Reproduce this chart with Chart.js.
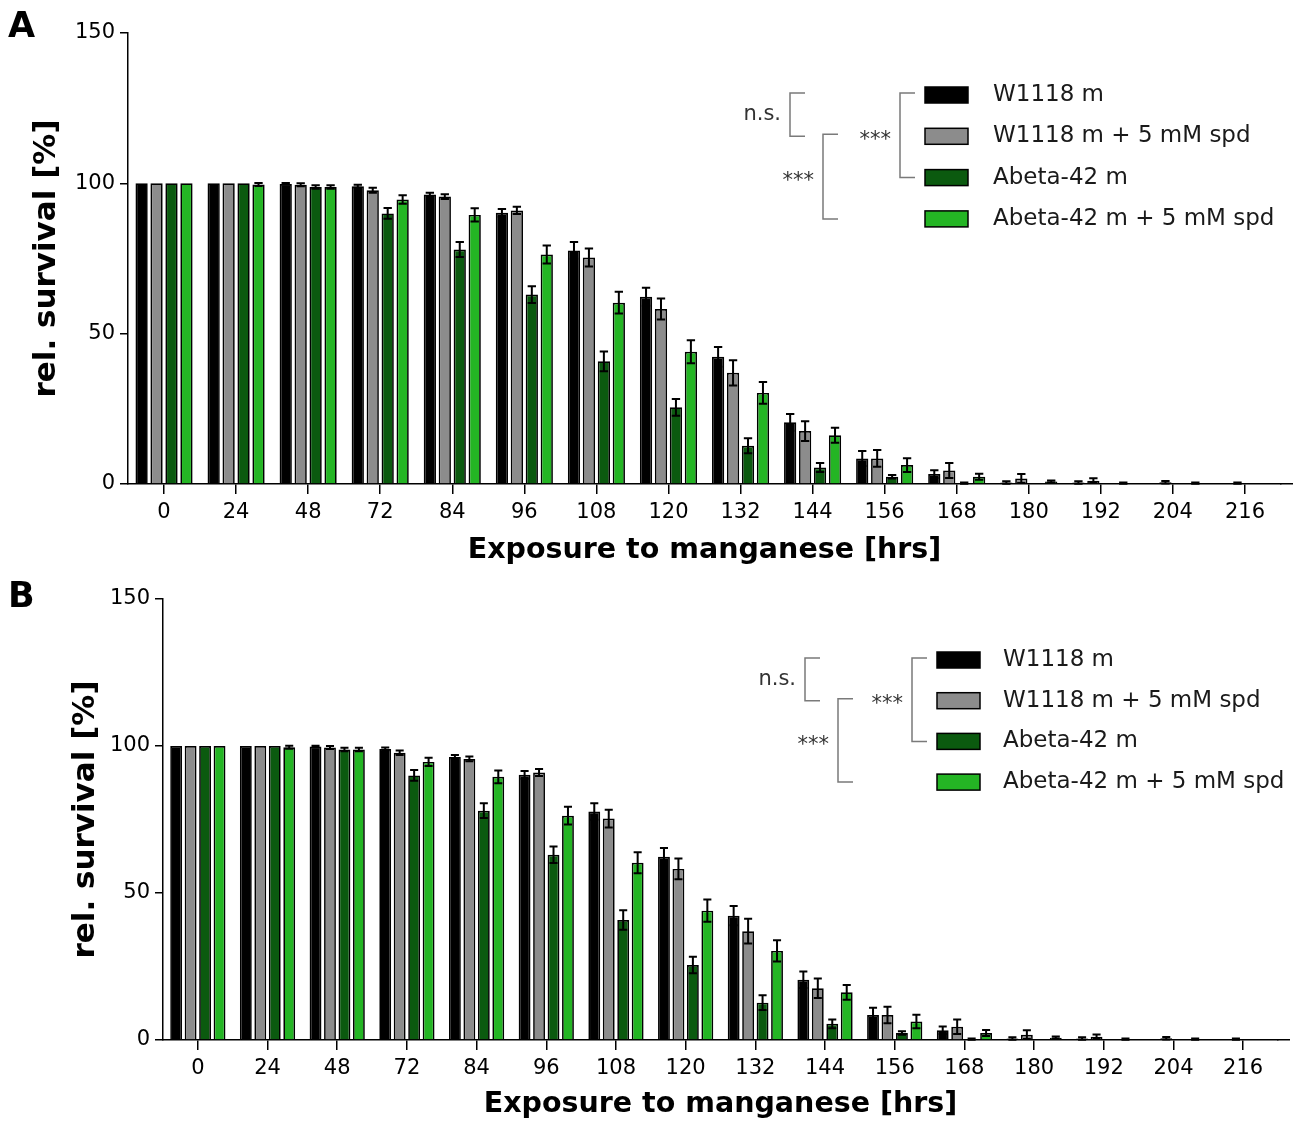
<!DOCTYPE html>
<html>
<head>
  <title>Survival on manganese</title>
  <script src="https://cdn.jsdelivr.net/npm/chart.js"></script>
  <style>
    body { margin: 0; background: #fff; width: 1299px; height: 1122px; position: relative; overflow: hidden; }
    .panel { position: absolute; left: 0; width: 1299px; }
    .letter { position: absolute; left: 8px; font: bold 35px "DejaVu Sans"; line-height: 1; color: #000; }
  </style>
</head>
<body>
  <div class="panel" style="top:0;height:572px"><canvas id="chartA"></canvas></div>
  <div class="letter" style="top:8px">A</div>
  <div class="panel" style="top:572px;height:550px"><canvas id="chartB"></canvas></div>
  <div class="letter" style="top:578px">B</div>

<script>
  // exposure time points (hrs)
  const hours = ['0', '24', '48', '72', '84', '96', '108', '120', '132', '144', '156', '168', '180', '192', '204', '216'];
  const seriesNames = ['W1118 m', 'W1118 m + 5 mM spd', 'Abeta-42 m', 'Abeta-42 m + 5 mM spd'];
  const seriesColors = ['#000000', '#8c8c8c', '#0b5a0f', '#24b524'];

  // rel. survival [%]
  const w1118     = [100, 100, 99.8, 99, 96.3, 90.2, 77.7, 62.3, 42.3, 20.5, 8.5, 3.3, 0.5, 0.5, 0, 0];
  const w1118Spd  = [100, 100, 99.5, 97.7, 95.6, 91, 75.3, 58.2, 37, 17.6, 8.5, 4.5, 1.8, 1.1, 0.6, 0.3];
  const abeta     = [100, 100, 98.8, 90, 78, 63, 40.8, 25.5, 12.7, 5.5, 2.4, 0.3, 0, 0, 0, 0];
  const abetaSpd  = [100, 99.6, 98.8, 94.6, 89.5, 76.3, 60.3, 44, 30.3, 16.2, 6.3, 2.4, 0.8, 0.3, 0.3, 0];

  // error (SEM)
  const w1118Err    = [0, 0, 0.3, 0.5, 0.6, 1.3, 2.8, 3, 3.3, 2.8, 2.5, 1.3, 0.4, 0.4, 0, 0];
  const w1118SpdErr = [0, 0, 0.5, 0.8, 0.8, 1.2, 3, 3.5, 4.2, 3.3, 2.8, 2.5, 1.5, 0.8, 0.4, 0.2];
  const abetaErr    = [0, 0, 0.6, 1.8, 2.5, 2.8, 3.3, 2.8, 2.5, 1.5, 0.6, 0.2, 0, 0, 0, 0];
  const abetaSpdErr = [0, 0.5, 0.6, 1.4, 2.2, 3, 3.6, 3.8, 3.6, 2.5, 2.3, 1, 0.4, 0.2, 0.2, 0];

  const yTicks = [0, 50, 100, 150];

  // statistics brackets next to the legend (legend row indices)
  const comparisons = [
    { rows: [0, 1], label: 'n.s.' },
    { rows: [0, 2], label: '***' },
    { rows: [1, 3], label: '***' }
  ];

  Chart.defaults.font.family = '"DejaVu Sans"';
  Chart.defaults.color = '#000';

  const errorBars = {
    id: 'errorBars',
    afterDatasetsDraw(chart) {
      const ctx = chart.ctx;
      const y = chart.scales.y;
      ctx.save();
      ctx.strokeStyle = '#000';
      ctx.lineWidth = 2;
      chart.data.datasets.forEach((ds, i) => {
        chart.getDatasetMeta(i).data.forEach((bar, j) => {
          const err = ds.errors[j];
          if (!err) return;
          const v = ds.data[j];
          const top = y.getPixelForValue(v + err);
          const bot = y.getPixelForValue(Math.max(v - err, 0));
          const half = bar.width * 0.34;
          ctx.beginPath();
          ctx.moveTo(bar.x, top); ctx.lineTo(bar.x, bot);
          ctx.moveTo(bar.x - half, top); ctx.lineTo(bar.x + half, top);
          ctx.moveTo(bar.x - half, bot); ctx.lineTo(bar.x + half, bot);
          ctx.stroke();
        });
      });
      ctx.restore();
    }
  };

  const sideLegend = {
    id: 'sideLegend',
    afterDraw(chart, args, opts) {
      const ctx = chart.ctx;
      const area = chart.chartArea;
      const boxX = area.right - opts.fromRight;
      const rowY = i => area.top + opts.firstRow + i * opts.rowGap;
      ctx.save();

      // x axis line runs on a little past the last group
      const xBorder = chart.scales.x;
      ctx.strokeStyle = '#000';
      ctx.lineWidth = 1.5;
      ctx.beginPath();
      ctx.moveTo(area.right - 1, Math.round(xBorder.top - 0.75) + 0.75);
      ctx.lineTo(area.right + opts.axisRunOn, Math.round(xBorder.top - 0.75) + 0.75);
      ctx.stroke();

      ctx.textBaseline = 'middle';
      chart.data.datasets.forEach((ds, i) => {
        const yc = rowY(i);
        ctx.fillStyle = ds.backgroundColor;
        ctx.fillRect(boxX, yc - 8, 43, 16);
        ctx.strokeStyle = '#000';
        ctx.lineWidth = 1.5;
        ctx.strokeRect(boxX, yc - 8, 43, 16);
        ctx.fillStyle = '#1a1a1a';
        ctx.textAlign = 'left';
        ctx.font = '23px "DejaVu Sans"';
        ctx.fillText(ds.label, boxX + opts.textGap, yc);
      });
      comparisons.forEach((c, k) => {
        const x = boxX + opts.bracketX[k];
        const y1 = rowY(c.rows[0]) - 2;
        const y2 = rowY(c.rows[1]);
        ctx.strokeStyle = '#7a7a7a';
        ctx.lineWidth = 1.5;
        ctx.beginPath();
        ctx.moveTo(x + 15, y1); ctx.lineTo(x, y1); ctx.lineTo(x, y2); ctx.lineTo(x + 15, y2);
        ctx.stroke();
        ctx.fillStyle = '#333';
        ctx.textAlign = 'right';
        ctx.font = '21px "DejaVu Sans"';
        const ym = (y1 + y2) / 2 + (c.label === '***' ? 5 : 0);
        ctx.fillText(c.label, x - 9, ym);
      });
      ctx.restore();
    }
  };

  function makeChart(id, cfg) {
    const datasets = [w1118, w1118Spd, abeta, abetaSpd].map((data, i) => ({
      label: seriesNames[i],
      data: data,
      errors: [w1118Err, w1118SpdErr, abetaErr, abetaSpdErr][i],
      backgroundColor: seriesColors[i],
      borderColor: '#000',
      borderWidth: 1.7,
      categoryPercentage: 0.83,
      barPercentage: 0.82
    }));

    return new Chart(document.getElementById(id), {
      type: 'bar',
      data: { labels: hours, datasets: datasets },
      plugins: [errorBars, sideLegend],
      options: {
        responsive: true,
        maintainAspectRatio: false,
        animation: false,
        layout: { padding: { top: cfg.top, right: cfg.right, bottom: 0, left: 0 } },
        plugins: {
          legend: { display: false },
          tooltip: { enabled: false },
          sideLegend: cfg.legend
        },
        scales: {
          x: {
            grid: { display: true, drawOnChartArea: false, offset: false, tickLength: 10, color: '#000', lineWidth: 1.5 },
            border: { color: '#000', width: 1.5 },
            ticks: { font: { size: 21 }, padding: 6, maxRotation: 0, autoSkip: false },
            title: { display: true, text: 'Exposure to manganese [hrs]', font: { size: 28.5, weight: 'bold' }, padding: { top: 0, bottom: cfg.xTitlePad } },
            afterFit: s => { s.height = cfg.xHeight; }
          },
          y: {
            min: 0,
            max: 150,
            afterBuildTicks: s => { s.ticks = yTicks.map(v => ({ value: v })); },
            grid: { display: true, drawOnChartArea: false, tickLength: 8, color: '#000', lineWidth: 1.5 },
            border: { color: '#000', width: 1.5 },
            ticks: { font: { size: 21 }, padding: 5 },
            title: { display: true, text: 'rel. survival [%]', font: { size: 31, weight: 'bold' }, padding: { top: cfg.yTitlePad, bottom: 0 } },
            afterFit: s => { s.width = cfg.yWidth; }
          }
        }
      }
    });
  }

  makeChart('chartA', {
    top: 33, right: 18, xHeight: 88, yWidth: 128, xTitlePad: 4.6, yTitlePad: 28,
    legend: { fromRight: 356, firstRow: 62, rowGap: 41.3, textGap: 68, bracketX: [-135, -25, -102], axisRunOn: 12 }
  });

  makeChart('chartB', {
    top: 27, right: 21, xHeight: 82, yWidth: 163, xTitlePad: 0, yTitlePad: 67,
    legend: { fromRight: 341, firstRow: 61, rowGap: 40.7, textGap: 66, bracketX: [-132, -25, -99], axisRunOn: 12 }
  });
</script>
</body>
</html>
